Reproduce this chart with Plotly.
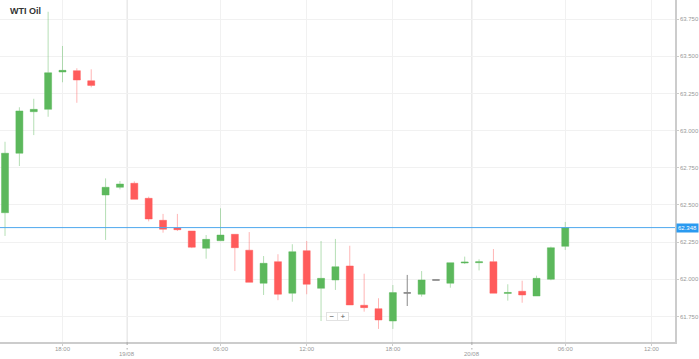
import plotly.graph_objects as go

# ---- data ----
times = (
    [f"18/08 {h:02d}:00" for h in range(14, 23)]
    + [f"19/08 {h:02d}:00" for h in range(0, 24)]
    + [f"20/08 {h:02d}:00" for h in range(0, 7)]
)
opens = [62.448, 62.848, 63.127, 63.143, 63.394, 63.403, 63.335, 62.567, 62.619, 62.646,
         62.545, 62.397, 62.345, 62.325, 62.209, 62.260, 62.303, 62.196, 61.974, 62.119,
         61.907, 62.193, 61.940, 61.996, 62.090, 61.826, 61.803, 61.720, 61.909, 61.900,
         61.996, 61.974, 62.110, 62.112, 62.119, 61.905, 61.920, 61.888, 62.001, 62.222]
highs = [62.925, 63.157, 63.214, 63.799, 63.569, 63.419, 63.412, 62.679, 62.661, 62.659,
         62.556, 62.440, 62.440, 62.325, 62.298, 62.478, 62.303, 62.318, 62.157, 62.169,
         62.236, 62.258, 62.258, 62.272, 62.226, 62.038, 61.873, 61.962, 62.030, 62.056,
         61.996, 62.112, 62.153, 62.135, 62.204, 61.967, 61.991, 62.025, 62.220, 62.386]
lows = [62.292, 62.762, 62.970, 63.093, 63.325, 63.187, 63.291, 62.265, 62.605, 62.538,
        62.390, 62.314, 62.325, 62.210, 62.139, 62.260, 62.056, 61.980, 61.895, 61.860,
        61.850, 61.900, 61.720, 61.929, 61.828, 61.783, 61.667, 61.667, 61.821, 61.884,
        61.996, 61.944, 62.103, 62.060, 61.907, 61.857, 61.843, 61.888, 61.994, 62.198]
closes = [62.848, 63.132, 63.143, 63.389, 63.405, 63.340, 63.304, 62.619, 62.641, 62.538,
          62.406, 62.337, 62.334, 62.216, 62.269, 62.298, 62.213, 61.980, 62.108, 61.900,
          62.186, 61.967, 62.007, 62.085, 61.828, 61.810, 61.727, 61.911, 61.909, 61.996,
          61.996, 62.112, 62.116, 62.118, 61.907, 61.912, 61.895, 62.007, 62.213, 62.348]
price_ticks = [61.75, 62.0, 62.25, 62.5, 62.75, 63.0, 63.25, 63.5, 63.75]
time_tick_labels = ["18/08 18:00", "19/08 06:00", "19/08 12:00", "19/08 18:00", "20/08 06:00"]
extra_tick_label = ("20/08 12:00", "20/08 06:00", 6)  # label, anchor, hours after anchor
day_labels = ["19/08", "20/08"]
current_price = 62.348
title = "WTI Oil"

GREEN = "#5cb85c"
RED = "#ff5b5b"
GRAY = "#8a8a8a"

doji = [o == c for o, c in zip(opens, closes)]


def pick(vals, want):
    return [v for v, d in zip(vals, doji) if d == want]


fig = go.Figure()
fig.add_trace(go.Candlestick(
    x=pick(times, False), open=pick(opens, False), high=pick(highs, False),
    low=pick(lows, False), close=pick(closes, False),
    increasing=dict(fillcolor=GREEN, line=dict(color="rgba(92,184,92,0.45)", width=1)),
    decreasing=dict(fillcolor=RED, line=dict(color="rgba(255,91,91,0.45)", width=1)),
    hoverinfo="skip", showlegend=False,
))
fig.add_trace(go.Candlestick(
    x=pick(times, True), open=pick(opens, True), high=pick(highs, True),
    low=pick(lows, True), close=pick(closes, True),
    increasing=dict(fillcolor=GRAY, line=dict(color=GRAY, width=1)),
    decreasing=dict(fillcolor=GRAY, line=dict(color=GRAY, width=1)),
    hoverinfo="skip", showlegend=False,
))

# category order follows the full time list
tick_idx = [times.index(t) for t in time_tick_labels]
tick_idx.append(times.index(extra_tick_label[1]) + extra_tick_label[2])
tick_txt = [t.split(" ")[1] for t in time_tick_labels] + [extra_tick_label[0].split(" ")[1]]
day_idx = [times.index(f"{d} 00:00") - 0.5 for d in day_labels]

shapes = []
for d in day_idx:
    shapes.append(dict(type="line", xref="x", yref="paper", x0=d, x1=d, y0=0, y1=1,
                       line=dict(color="#dedede", width=1), layer="below"))
    shapes.append(dict(type="line", xref="x", yref="paper", x0=d, x1=d, y0=0, y1=-0.022,
                       line=dict(color="#aaaaaa", width=1, dash="dot"), layer="above"))
shapes.append(dict(type="line", xref="paper", yref="y", x0=0, x1=1, y0=current_price,
                   y1=current_price, line=dict(color="#4fa8ee", width=1), layer="above"))

annotations = [
    dict(text=f"<b>{title}</b>", xref="paper", yref="paper", x=0.012, y=0.968,
         xanchor="left", yanchor="middle", showarrow=False,
         font=dict(size=9, color="#333333")),
    dict(text=f"{current_price:.3f}", xref="paper", yref="y", x=1.002, y=current_price,
         xanchor="left", yanchor="middle", showarrow=False, bgcolor="#2a9af0",
         font=dict(size=6, color="white"), borderpad=1),
    dict(text="−", xref="paper", yref="paper", x=333 / 678, y=(342 - 321) / 342,
         showarrow=False, bgcolor="white", bordercolor="#e2e2e2", borderwidth=1,
         width=10, height=7, font=dict(size=8, color="#555555"), borderpad=0),
    dict(text="+", xref="paper", yref="paper", x=344.5 / 678, y=(342 - 321) / 342,
         showarrow=False, bgcolor="white", bordercolor="#e2e2e2", borderwidth=1,
         width=10, height=7, font=dict(size=8, color="#555555"), borderpad=0),
]
for d, lab in zip(day_idx, day_labels):
    annotations.append(dict(text=lab, xref="x", yref="paper", x=d, y=-0.036,
                            xanchor="center", yanchor="middle", showarrow=False,
                            font=dict(size=6, color="#999999")))

fig.update_layout(
    width=699, height=359,
    margin=dict(l=0, r=21, t=0, b=17),
    paper_bgcolor="white", plot_bgcolor="white",
    font=dict(family="Liberation Sans, Arial, sans-serif"),
    shapes=shapes, annotations=annotations,
    xaxis=dict(
        type="category", categoryorder="array", categoryarray=times,
        range=[-0.35, 46.64], rangeslider=dict(visible=False),
        tickmode="array", tickvals=tick_idx, ticktext=tick_txt,
        tickfont=dict(size=6, color="#999999"),
        showgrid=True, gridcolor="#f1f1f1", gridwidth=1,
        showline=True, linecolor="#cccccc", linewidth=1.5,
        ticks="outside", ticklen=2, tickcolor="#cccccc",
        ticklabelstandoff=-2,
        zeroline=False, fixedrange=True,
    ),
    yaxis=dict(
        side="right", range=[61.579, 63.878],
        tickmode="array", tickvals=price_ticks, tickformat=".3f",
        tickfont=dict(size=6, color="#999999"),
        showgrid=True, gridcolor="#f1f1f1", gridwidth=1,
        showline=True, linecolor="#cccccc", linewidth=1.5,
        ticks="outside", ticklen=2, tickcolor="#cccccc",
        zeroline=False, fixedrange=True,
    ),
)

fig.write_html(
    "out.html",
    config={"displayModeBar": False},
    post_script="document.body.style.margin='0';document.body.style.padding='0';",
)
